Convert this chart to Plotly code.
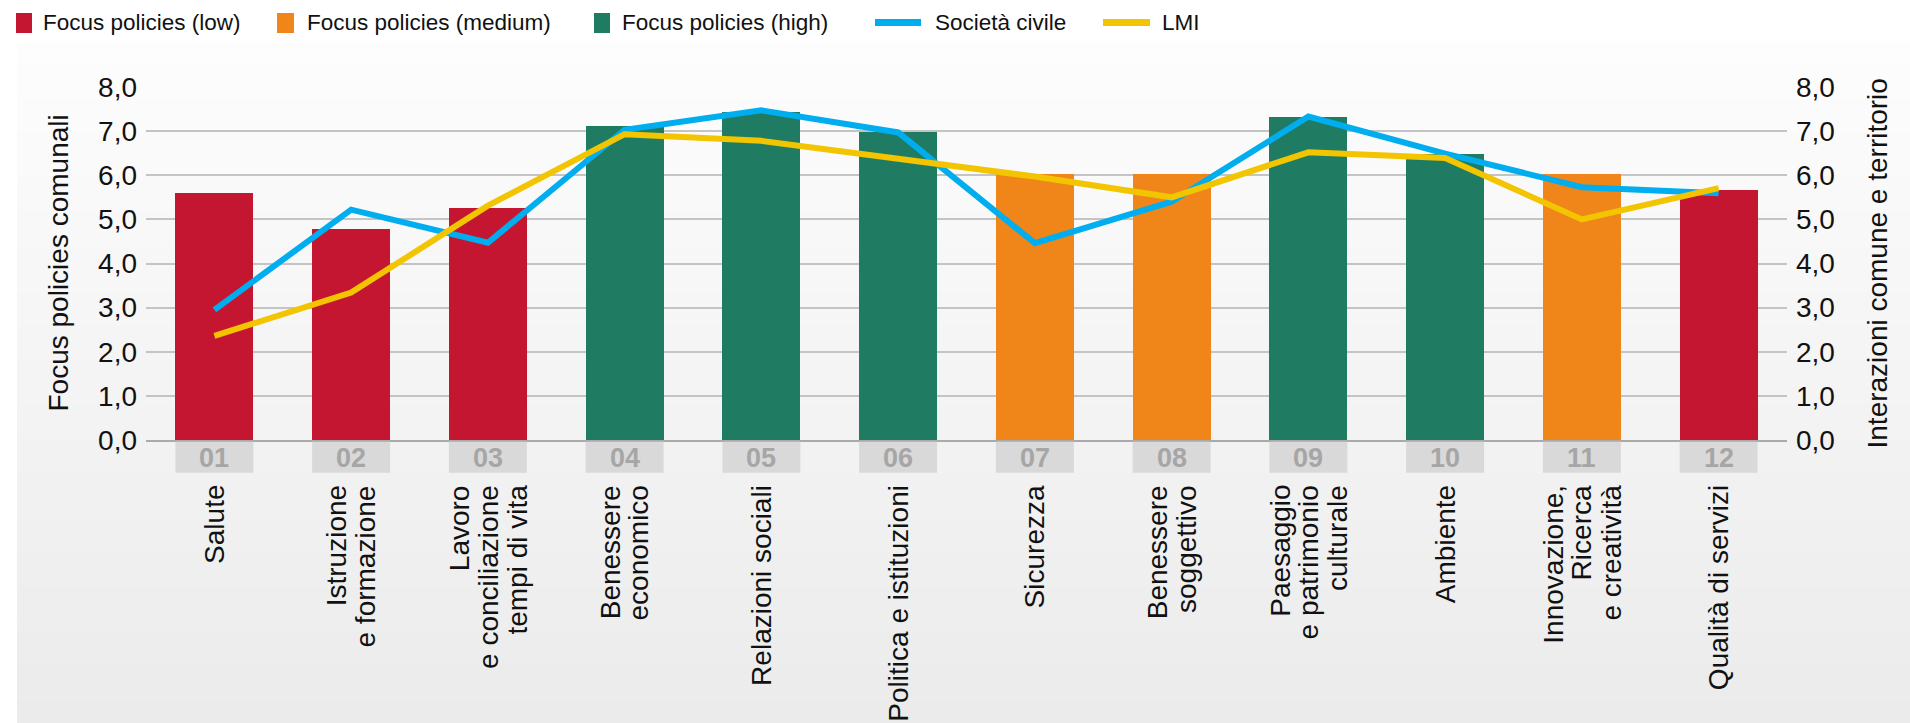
import plotly.graph_objects as go

# --- data -------------------------------------------------------------
codes = ["01", "02", "03", "04", "05", "06", "07", "08", "09", "10", "11", "12"]
categories = [
    "Salute",
    "Istruzione\ne formazione",
    "Lavoro\ne conciliazione\ntempi di vita",
    "Benessere\neconomico",
    "Relazioni sociali",
    "Politica e istituzioni",
    "Sicurezza",
    "Benessere\nsoggettivo",
    "Paesaggio\ne patrimonio\nculturale",
    "Ambiente",
    "Innovazione,\nRicerca\ne creatività",
    "Qualità di servizi",
]
focus_policies = [5.59, 4.78, 5.25, 7.12, 7.44, 6.99, 6.02, 6.02, 7.31, 6.49, 6.02, 5.67]
focus_level = ["low", "low", "low", "high", "high", "high",
               "medium", "medium", "high", "high", "medium", "low"]
societa_civile = [2.95, 5.22, 4.47, 7.03, 7.47, 6.97, 4.46, 5.40, 7.33, 6.49, 5.73, 5.59]
lmi = [2.36, 3.34, 5.31, 6.93, 6.78, 6.38, 5.97, 5.50, 6.52, 6.39, 5.00, 5.71]
y_ticks = [0, 1, 2, 3, 4, 5, 6, 7, 8]

level_names = {"low": "Focus policies (low)",
               "medium": "Focus policies (medium)",
               "high": "Focus policies (high)"}
level_colors = {"low": "#C51631", "medium": "#F0861A", "high": "#1F7C62"}
BLUE = "#00AEEF"
YELLOW = "#F2C500"
FONT = "Arial, Liberation Sans, sans-serif"

# --- page geometry (pixels) -------------------------------------------
FIG_W, FIG_H = 1910, 723
L, R, T, B = 146, 1787, 87, 440
PW, PH = R - L, B - T
BAR_W = 0.57


def px_x(px):
    return (px - L) / PW


def px_y(py):
    return (B - py) / PH


xs = list(range(len(codes)))
fig = go.Figure()

# bars, one trace per focus level
for lvl in ["low", "medium", "high"]:
    bx = [x for x, l in zip(xs, focus_level) if l == lvl]
    by = [v for v, l in zip(focus_policies, focus_level) if l == lvl]
    fig.add_trace(go.Bar(x=bx, y=by, width=BAR_W, name=level_names[lvl],
                         marker=dict(color=level_colors[lvl], line=dict(width=0)),
                         showlegend=False))

fig.add_trace(go.Scatter(x=xs, y=societa_civile, mode="lines", name="Società civile",
                         line=dict(color=BLUE, width=6), yaxis="y2", showlegend=False))
fig.add_trace(go.Scatter(x=xs, y=lmi, mode="lines", name="LMI",
                         line=dict(color=YELLOW, width=6), yaxis="y2", showlegend=False))

shapes = []
annotations = []

# panel background with a soft vertical gradient
top_px, n_strips = 42, 60
c_top, c_bot = 253, 235
for k in range(n_strips):
    y0 = top_px + (FIG_H - top_px) * k / n_strips
    y1 = top_px + (FIG_H - top_px) * (k + 1) / n_strips
    c = round(c_top + (c_bot - c_top) * (k + 0.5) / n_strips)
    shapes.append(dict(type="rect", xref="paper", yref="paper",
                       x0=px_x(17), x1=px_x(FIG_W), y0=px_y(y1), y1=px_y(y0 - 0.5),
                       fillcolor=f"rgb({c},{c},{c})", line=dict(width=0), layer="below"))

# grey code boxes under each bar
for x, code in zip(xs, codes):
    shapes.append(dict(type="rect", xref="x", yref="paper",
                       x0=x - BAR_W / 2, x1=x + BAR_W / 2,
                       y0=px_y(472.7), y1=px_y(441.7),
                       fillcolor="#D9D9D9", line=dict(width=0), layer="above"))
    annotations.append(dict(x=x, y=px_y(457.5), xref="x", yref="paper", text=code,
                            showarrow=False, xanchor="center", yanchor="middle",
                            font=dict(family=FONT, size=27, color="#A6A6A6", weight="bold")))

# rotated category names, lines right-aligned at the top
LINE_GAP = 28.7
for x, name in zip(xs, categories):
    lines = name.split("\n")
    n = len(lines)
    for k, ln in enumerate(lines):
        annotations.append(dict(x=x, y=px_y(483), xref="x", yref="paper", text=ln,
                                textangle=-90, showarrow=False,
                                xanchor="center", yanchor="top",
                                xshift=(k - (n - 1) / 2) * LINE_GAP,
                                font=dict(family=FONT, size=28, color="#111111")))

# axis titles
annotations.append(dict(x=px_x(58), y=0.5, xref="paper", yref="paper",
                        text="Focus policies comunali", textangle=-90, showarrow=False,
                        xanchor="center", yanchor="middle",
                        font=dict(family=FONT, size=28, color="#111111")))
annotations.append(dict(x=px_x(1877), y=0.5, xref="paper", yref="paper",
                        text="Interazioni comune e territorio", textangle=-90,
                        showarrow=False, xanchor="center", yanchor="middle",
                        font=dict(family=FONT, size=28, color="#111111")))

# legend row
legend_items = [
    ("rect", level_colors["low"], 16, 32, 41, level_names["low"]),
    ("rect", level_colors["medium"], 277, 294, 305, level_names["medium"]),
    ("rect", level_colors["high"], 594, 610, 620, level_names["high"]),
    ("line", BLUE, 875, 921, 933, "Società civile"),
    ("line", YELLOW, 1103, 1150, 1160, "LMI"),
]
for kind, col, a, b, tx, label in legend_items:
    if kind == "rect":
        shapes.append(dict(type="rect", xref="paper", yref="paper",
                           x0=px_x(a), x1=px_x(b), y0=px_y(33), y1=px_y(13),
                           fillcolor=col, line=dict(width=0)))
    else:
        shapes.append(dict(type="line", xref="paper", yref="paper",
                           x0=px_x(a), x1=px_x(b), y0=px_y(22.5), y1=px_y(22.5),
                           line=dict(color=col, width=7)))
    annotations.append(dict(x=px_x(tx), y=px_y(23), xref="paper", yref="paper",
                            text=label, showarrow=False, xanchor="left", yanchor="middle",
                            font=dict(family=FONT, size=22.5, color="#111111")))

axis_common = dict(range=[0, 8], tickvals=y_ticks, tickformat=".1f",
                   tickfont=dict(family=FONT, size=28, color="#111111"),
                   ticks="", fixedrange=True)

fig.update_layout(
    width=FIG_W, height=FIG_H,
    margin=dict(l=L, r=FIG_W - R, t=T, b=FIG_H - B, autoexpand=False),
    paper_bgcolor="white", plot_bgcolor="rgba(0,0,0,0)",
    separators=",.",
    barmode="overlay", bargap=0,
    showlegend=False,
    xaxis=dict(range=[-0.5, len(codes) - 0.5], showticklabels=False, showgrid=False,
               zeroline=False, showline=True, linecolor="#AAAAAA", linewidth=1.5,
               fixedrange=True),
    yaxis=dict(**axis_common, showgrid=True, gridcolor="#C4C4C4", gridwidth=1.5,
               zeroline=False, side="left", ticklabelstandoff=8),
    yaxis2=dict(**axis_common, overlaying="y", side="right", showgrid=False,
                zeroline=False, ticklabelstandoff=8),
    shapes=shapes,
    annotations=annotations,
    font=dict(family=FONT),
)

fig.write_html("out.html")
